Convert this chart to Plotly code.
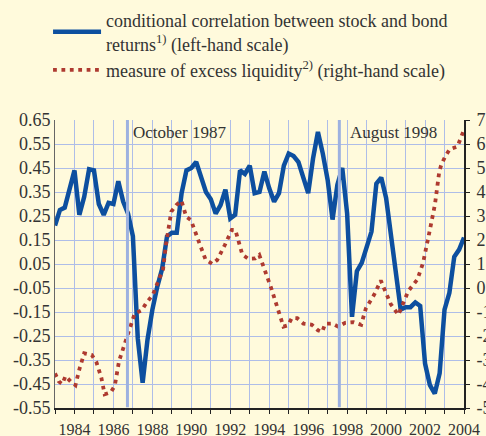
import plotly.graph_objects as go

# ---------------- data ----------------
# conditional correlation between stock and bond returns (quarterly, left-hand scale)
corr_start = 1983.0
corr_values = [
    0.21, 0.275, 0.285, 0.355,
    0.44, 0.255, 0.33, 0.445,
    0.44, 0.30, 0.255, 0.305,
    0.30, 0.395, 0.31, 0.26,
    0.165, -0.26, -0.445, -0.265,
    -0.14, -0.045, 0.03, 0.165,
    0.18, 0.18, 0.345, 0.44,
    0.45, 0.475, 0.415, 0.35,
    0.32, 0.26, 0.295, 0.36,
    0.24, 0.255, 0.44, 0.425,
    0.46, 0.345, 0.35, 0.435,
    0.365, 0.31, 0.345, 0.46,
    0.51, 0.50, 0.475, 0.405,
    0.345, 0.49, 0.60, 0.51,
    0.40, 0.235, 0.38, 0.45,
    0.26, -0.17, 0.02, 0.055,
    0.115, 0.185, 0.385, 0.41,
    0.325, 0.165, 0.01, -0.14,
    -0.13, -0.13, -0.11, -0.125,
    -0.365, -0.455, -0.49, -0.405,
    -0.14, -0.07, 0.08, 0.11,
    0.16,
]
corr_x = [corr_start + 0.25 * i for i in range(len(corr_values))]

# measure of excess liquidity (right-hand scale)
liq_x = [1983.0, 1983.2, 1983.37, 1983.54, 1983.83, 1984.05, 1984.26, 1984.5, 1984.89,
         1985.13, 1985.38, 1985.55, 1985.86, 1986.07, 1986.29, 1986.55, 1986.86, 1987.09,
         1987.45, 1987.69, 1988.02, 1988.34, 1988.55, 1988.70, 1988.82, 1988.97, 1989.23,
         1989.49, 1989.74, 1989.98, 1990.43, 1990.73, 1991.08, 1991.33, 1991.72, 1992.08,
         1992.26, 1992.62, 1992.92, 1993.28, 1993.49, 1994.10, 1994.73, 1994.96, 1995.16,
         1995.44, 1995.76, 1996.19, 1996.50, 1996.72, 1996.87, 1997.22, 1997.54, 1997.90,
         1998.31, 1998.72, 1998.96, 1999.38, 1999.73, 2000.24, 2000.63, 2000.96, 2001.14,
         2001.61, 2001.90, 2002.17, 2002.51, 2002.73, 2002.84, 2003.03, 2003.27, 2003.66,
         2003.96]
liq_values = [-3.56, -3.9, -4.0, -3.67, -3.92, -4.05, -3.36, -2.72, -2.79,
              -3.1, -3.74, -4.43, -4.35, -4.07, -3.04, -2.39, -1.74, -1.07,
              -0.93, -0.625, -0.29, 0.33, 0.79, 1.82, 2.51, 3.18, 3.46,
              3.64, 2.97, 2.83, 1.83, 1.19, 1.0, 1.17, 1.79, 2.42,
              2.42, 1.39, 1.22, 1.23, 1.375, 0.0, -1.61, -1.555, -1.25,
              -1.26, -1.49, -1.53, -1.76, -1.83, -1.49, -1.48, -1.61, -1.45,
              -1.42, -1.53, -0.85, -0.29, 0.31, -0.67, -1.12, -0.47, -0.125,
              0.36, 1.05, 2.11, 3.49, 4.85, 5.15, 5.47, 5.78, 5.89,
              6.51]

# events
event_x = [1986.72, 1997.6]
event_label_x = [1986.92, 1998.05]
event_labels = ["October 1987", "August 1998"]

# axes
left_ticks = [0.65, 0.55, 0.45, 0.35, 0.25, 0.15, 0.05, -0.05, -0.15, -0.25, -0.35, -0.45, -0.55]
left_ticktext = ["0.65", "0.55", "0.45", "0.35", "0.25", "0.15", "0.05", "-0.05", "-0.15",
                 "-0.25", "-0.35", "-0.45", "-0.55"]
right_ticks = [7, 6, 5, 4, 3, 2, 1, 0, -1, -2, -3, -4, -5]
right_ticktext = ["7", "6", "5", "4", "3", "2", "1", "0", "-1", "-2", "-3", "-4", "-5"]
year_ticks = list(range(1984, 2005, 2))
year_ticktext = [str(y) for y in year_ticks]

series_names = [
    "conditional correlation between stock and bond<br>returns<sup>1)</sup> (left-hand scale)",
    "measure of excess liquidity<sup>2)</sup> (right-hand scale)",
]

# ---------------- style ----------------
BG = "#FFFADC"
GRID = "#AEBDE8"
EVENT = "#9DB1E0"
BLUE = "#0D4F9F"
RED = "#AE3A30"
TXT = "#333333"
FONT = "Liberation Serif"

fig = go.Figure()

fig.add_trace(go.Scatter(
    x=corr_x, y=corr_values, mode="lines", name=series_names[0],
    line=dict(color=BLUE, width=4.5), yaxis="y",
))
fig.add_trace(go.Scatter(
    x=liq_x, y=liq_values, mode="lines", name=series_names[1],
    line=dict(color=RED, width=3.8, dash="3.8px,4.6px"), yaxis="y2",
))

for ex in event_x:
    fig.add_shape(type="line", xref="x", yref="paper", x0=ex, x1=ex, y0=0.003, y1=1,
                  line=dict(color=EVENT, width=3), layer="above")

for lx, lt in zip(event_label_x, event_labels):
    fig.add_annotation(x=lx, y=0.596, xref="x", yref="y", text=lt, showarrow=False,
                       xanchor="left", yanchor="middle",
                       font=dict(family=FONT, size=17, color=TXT))

fig.update_layout(
    width=486, height=436,
    margin=dict(l=55, r=22, t=120, b=28, autoexpand=False),
    paper_bgcolor=BG, plot_bgcolor=BG,
    font=dict(family=FONT, size=16, color=TXT),
    showlegend=True,
    legend=dict(x=-0.017, y=1.41, xanchor="left", yanchor="top",
                bgcolor="rgba(0,0,0,0)", borderwidth=0,
                font=dict(family=FONT, size=18, color=TXT),
                tracegroupgap=0, itemwidth=48),
    xaxis=dict(
        range=[1983.0, 2004.0], tickmode="array", tickvals=year_ticks, ticktext=year_ticktext,
        showgrid=True, gridcolor=GRID, gridwidth=1,
        minor=dict(dtick=1, tick0=1983, showgrid=True, gridcolor=GRID, gridwidth=1,
                   ticks="outside", ticklen=4, tickcolor="#222222"),
        ticks="outside", ticklen=4, tickcolor="#222222", ticklabelstandoff=2,
        showline=True, linecolor="#222222", linewidth=2, zeroline=False,
        tickfont=dict(family=FONT, size=16, color=TXT),
    ),
    yaxis=dict(
        range=[-0.55, 0.65], tickmode="array", tickvals=left_ticks, ticktext=left_ticktext,
        showgrid=True, gridcolor=GRID, gridwidth=1, zeroline=False,
        showline=True, linecolor="#666666", linewidth=1,
        ticks="", tickfont=dict(family=FONT, size=18, color=TXT),
    ),
    yaxis2=dict(
        range=[-5, 7], overlaying="y", side="right", tickmode="array",
        tickvals=right_ticks, ticktext=right_ticktext,
        showgrid=False, zeroline=False, showline=True, linecolor="#222222", linewidth=2,
        ticks="outside", ticklen=4, tickcolor="#222222", ticklabelstandoff=3,
        tickfont=dict(family=FONT, size=18, color=TXT),
    ),
)

fig.write_html(
    "out.html",
    config={"displayModeBar": False},
    post_script="document.body.style.margin='0';document.body.style.background='#FFFADC';",
)
